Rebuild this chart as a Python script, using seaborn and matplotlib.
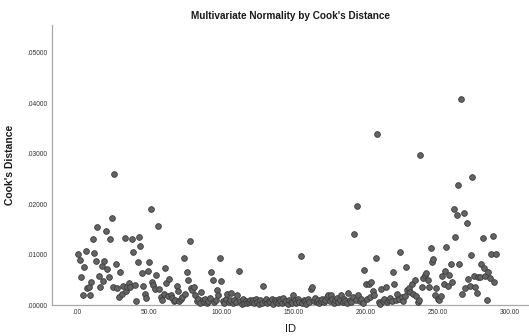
import matplotlib
matplotlib.use("Agg")
import matplotlib.pyplot as plt
import seaborn as sns
from matplotlib.ticker import FuncFormatter

# Cook's distance per case (ID 1..290)
cooks_1_60 = [
    .0102, .0090, .0056, .0020, .0075, .0107, .0033, .0035, .0020, .0045,
    .0130, .0104, .0088, .0154, .0058, .0035, .0078, .0047, .0088, .0146,
    .0071, .0056, .0130, .0173, .0036, .0260, .0081, .0033, .0015, .0066,
    .0022, .0038, .0132, .0028, .0035, .0043, .0036, .0131, .0106, .0039,
    .0007, .0086, .0134, .0116, .0063, .0038, .0022, .0014, .0068, .0085,
    .0190, .0045, .0040, .0031, .0059, .0157, .0031, .0016, .0010, .0022,
]
cooks_61_120 = [
    .0073, .0044, .0018, .0051, .0020, .0014, .0007, .0010, .0037, .0027,
    .0007, .0012, .0015, .0094, .0022, .0066, .0049, .0127, .0033, .0030,
    .0035, .0019, .0008, .0012, .0004, .0026, .0009, .0006, .0011, .0003,
    .0007, .0014, .0065, .0050, .0005, .0010, .0030, .0020, .0093, .0048,
    .0008, .0004, .0012, .0022, .0006, .0010, .0023, .0003, .0009, .0005,
    .0019, .0067, .0007, .0002, .0011, .0004, .0008, .0003, .0006, .0010,
]
cooks_121_180 = [
    .0005, .0009, .0003, .0012, .0006, .0002, .0010, .0004, .0038, .0007,
    .0011, .0003, .0008, .0005, .0012, .0002, .0009, .0006, .0004, .0011,
    .0007, .0003, .0013, .0005, .0008, .0002, .0010, .0006, .0004, .0020,
    .0009, .0003, .0012, .0006, .0097, .0004, .0010, .0007, .0002, .0011,
    .0005, .0031, .0035, .0008, .0013, .0006, .0010, .0003, .0008, .0012,
    .0005, .0009, .0016, .0020, .0007, .0019, .0011, .0004, .0009, .0013,
]
cooks_181_234 = [
    .0006, .0010, .0020, .0005, .0012, .0008, .0003, .0024, .0010, .0006,
    .0015, .0140, .0009, .0197, .0020, .0007, .0012, .0004, .0070, .0041,
    .0011, .0041, .0016, .0045, .0028, .0020, .0094, .0339, .0006, .0002,
    .0032, .0008, .0012, .0036, .0005, .0010, .0014, .0007, .0066, .0042,
    .0009, .0022, .0012, .0106, .0015, .0008, .0018, .0075, .0030, .0034,
    .0026, .0041, .0022, .0049,
]
cooks_235_290 = [
    .0017, .0005, .0009, .0297, .0035, .0053, .0059, .0064, .0049, .0035,
    .0112, .0085, .0091, .0020, .0033, .0012, .0009, .0018, .0058, .0041,
    .0068, .0114, .0037, .0060, .0082, .0045, .0191, .0135, .0178, .0238,
    .0081, .0408, .0022, .0182, .0033, .0163, .0051, .0037, .0100, .0254,
    .0058, .0036, .0024, .0055, .0055, .0081, .0133, .0074, .0057, .0010,
    .0065, .0053, .0101, .0136, .0045, .0101,
]
cooks_d = cooks_1_60 + cooks_61_120 + cooks_121_180 + cooks_181_234 + cooks_235_290
case_id = list(range(1, len(cooks_d) + 1))

x_ticks = [0, 50, 100, 150, 200, 250, 300]
y_ticks = [0.0, 0.01, 0.02, 0.03, 0.04, 0.05]

sns.set_style("white")
plt.rcParams["font.family"] = ["Liberation Sans", "DejaVu Sans"]

fig = plt.figure(figsize=(5.29, 3.36), dpi=100)
ax = fig.add_axes([52 / 529, 31 / 336, 477 / 529, 280 / 336])

sns.scatterplot(x=case_id, y=cooks_d, ax=ax, s=17, color="#636363",
                edgecolor="#3c3c3c", linewidth=0.6, zorder=3, clip_on=False)

ax.set_xlim(-17.3, 313.2)
ax.set_ylim(0, 0.0555)
ax.set_xticks(x_ticks)
ax.set_yticks(y_ticks)
ax.xaxis.set_major_formatter(FuncFormatter(lambda v, p: f"{v:.2f}".lstrip("0") if v == 0 else f"{v:.2f}"))
ax.yaxis.set_major_formatter(FuncFormatter(lambda v, p: f"{v:.5f}".lstrip("0")))
ax.tick_params(length=0, labelsize=4.8, labelcolor="#333333", pad=3)

for side in ["top", "right"]:
    ax.spines[side].set_visible(False)
for side in ["left", "bottom"]:
    ax.spines[side].set_color("#a8a8a8")
    ax.spines[side].set_linewidth(0.9)

ax.set_title("Multivariate Normality by Cook's Distance", fontsize=7.2,
             fontweight="bold", color="#1a1a1a", pad=4)
ax.set_ylabel("Cook's Distance", fontsize=7.5, fontweight="bold", color="#1a1a1a")
ax.yaxis.set_label_coords(-0.078, 0.5)
ax.set_xlabel("ID", fontsize=8, color="#1a1a1a")
ax.xaxis.set_label_coords(0.5, -0.085)
ax.xaxis.label.set_va("center")

fig.savefig("out.png", dpi=100)
